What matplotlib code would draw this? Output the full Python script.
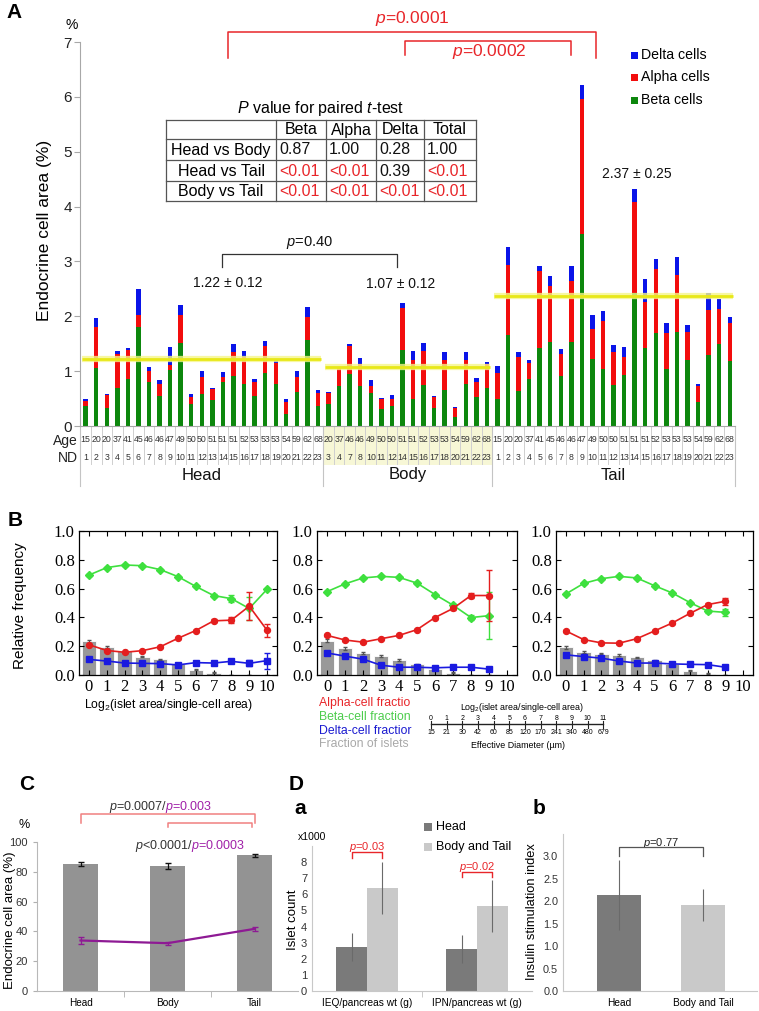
import matplotlib
matplotlib.use('Agg')
import matplotlib.pyplot as plt
import matplotlib.transforms as mtrans
from matplotlib.patches import Rectangle
import numpy as np

plt.rcParams['font.family'] = ['Liberation Sans', 'DejaVu Sans']
plt.rcParams['mathtext.fontset'] = 'custom'
plt.rcParams['mathtext.rm'] = 'Liberation Sans'
plt.rcParams['mathtext.it'] = 'Liberation Sans:italic'
plt.rcParams['mathtext.bf'] = 'Liberation Sans:bold'

# ------------------------------------------------------------------ data A
nd_age = [15, 20, 20, 37, 41, 45, 46, 46, 47, 49, 50, 50, 51, 51, 51, 52, 53, 53, 53, 54, 59, 62, 68]
head_nd = list(range(1, 24))
body_nd = [3, 4, 7, 8, 10, 11, 12, 14, 15, 16, 17, 18, 20, 21, 22, 23]
tail_nd = list(range(1, 24))

head_beta = [0.37, 1.06, 0.33, 0.70, 0.85, 1.81, 0.80, 0.55, 1.02, 1.51, 0.41, 0.58, 0.47, 0.81, 0.92, 0.76, 0.55, 0.97, 0.77, 0.22, 0.62, 1.57, 0.37]
head_alpha = [0.08, 0.75, 0.24, 0.61, 0.53, 0.21, 0.21, 0.22, 0.10, 0.51, 0.12, 0.31, 0.21, 0.09, 0.42, 0.50, 0.26, 0.48, 0.37, 0.22, 0.28, 0.42, 0.23]
head_delta = [0.05, 0.16, 0.02, 0.06, 0.05, 0.48, 0.06, 0.06, 0.32, 0.19, 0.05, 0.12, 0.02, 0.08, 0.15, 0.11, 0.05, 0.10, 0.06, 0.05, 0.10, 0.18, 0.05]

body_beta = [0.40, 0.73, 0.95, 0.73, 0.60, 0.31, 0.36, 1.38, 0.50, 0.74, 0.33, 0.66, 0.16, 0.77, 0.53, 0.70]
body_alpha = [0.21, 0.34, 0.51, 0.40, 0.13, 0.18, 0.13, 0.78, 0.70, 0.63, 0.20, 0.55, 0.16, 0.44, 0.28, 0.43]
body_delta = [0.01, 0.01, 0.03, 0.11, 0.10, 0.02, 0.07, 0.09, 0.16, 0.15, 0.01, 0.14, 0.03, 0.13, 0.07, 0.04]

tail_beta = [0.50, 1.66, 0.63, 0.85, 1.43, 1.54, 0.92, 1.54, 3.50, 1.23, 1.03, 0.75, 0.93, 2.43, 1.43, 1.69, 1.03, 1.72, 1.21, 0.43, 1.30, 1.49, 1.19]
tail_alpha = [0.47, 1.27, 0.62, 0.30, 1.39, 1.02, 0.40, 1.10, 2.46, 0.54, 0.89, 0.59, 0.33, 1.66, 0.83, 1.18, 0.66, 1.03, 0.50, 0.30, 0.82, 0.65, 0.69]
tail_delta = [0.12, 0.33, 0.09, 0.06, 0.09, 0.17, 0.09, 0.28, 0.25, 0.26, 0.17, 0.13, 0.18, 0.23, 0.42, 0.18, 0.19, 0.33, 0.14, 0.04, 0.30, 0.17, 0.10]

group_names = ['Head', 'Body', 'Tail']
group_means = [1.22, 1.07, 2.37]
group_sems = [0.12, 0.12, 0.25]

ptab_cols = ['Beta', 'Alpha', 'Delta', 'Total']
ptab_rows = ['Head vs Body', 'Head vs Tail', 'Body vs Tail']
ptab_vals = [['0.87', '1.00', '0.28', '1.00'],
             ['<0.01', '<0.01', '0.39', '<0.01'],
             ['<0.01', '<0.01', '<0.01', '<0.01']]

# ------------------------------------------------------------------ data B
bins_head = list(range(11))
bins_bt = list(range(10))
head_alpha_f = [0.21, 0.17, 0.158, 0.169, 0.196, 0.255, 0.309, 0.376, 0.381, 0.478, 0.311]
head_alpha_e = [0.005, 0.005, 0.005, 0.005, 0.005, 0.005, 0.005, 0.01, 0.02, 0.095, 0.045]
head_beta_f = [0.694, 0.746, 0.764, 0.759, 0.732, 0.683, 0.615, 0.552, 0.530, 0.462, 0.595]
head_beta_e = [0.005, 0.005, 0.005, 0.005, 0.005, 0.005, 0.005, 0.01, 0.025, 0.08, 0.0]
head_delta_f = [0.108, 0.097, 0.083, 0.081, 0.079, 0.070, 0.086, 0.083, 0.095, 0.081, 0.10]
head_delta_e = [0.003, 0.003, 0.003, 0.003, 0.003, 0.003, 0.003, 0.005, 0.01, 0.02, 0.055]
head_islets = [0.234, 0.194, 0.165, 0.128, 0.108, 0.079, 0.036, 0.016, 0.003, 0.0, 0.0]
head_islets_e = [0.01, 0.008, 0.006, 0.005, 0.005, 0.004, 0.004, 0.003, 0.0, 0.0, 0.0]

body_alpha_f = [0.275, 0.243, 0.228, 0.252, 0.275, 0.315, 0.399, 0.462, 0.552, 0.552]
body_alpha_e = [0.005, 0.005, 0.005, 0.005, 0.005, 0.005, 0.005, 0.01, 0.02, 0.18]
body_beta_f = [0.579, 0.633, 0.674, 0.685, 0.678, 0.638, 0.559, 0.485, 0.399, 0.412]
body_beta_e = [0.005, 0.005, 0.005, 0.005, 0.005, 0.005, 0.005, 0.01, 0.02, 0.165]
body_delta_f = [0.153, 0.131, 0.110, 0.068, 0.054, 0.054, 0.050, 0.054, 0.054, 0.041]
body_delta_e = [0.003, 0.003, 0.003, 0.003, 0.003, 0.003, 0.003, 0.003, 0.005, 0.015]
body_islets = [0.237, 0.185, 0.153, 0.131, 0.104, 0.074, 0.045, 0.016, 0.0, 0.0]
body_islets_e = [0.01, 0.008, 0.006, 0.005, 0.005, 0.004, 0.004, 0.003, 0.0, 0.0]

tail_alpha_f = [0.306, 0.246, 0.223, 0.221, 0.252, 0.306, 0.361, 0.428, 0.489, 0.512]
tail_alpha_e = [0.005, 0.005, 0.005, 0.005, 0.005, 0.005, 0.005, 0.005, 0.01, 0.025]
tail_beta_f = [0.563, 0.636, 0.669, 0.685, 0.674, 0.620, 0.570, 0.503, 0.444, 0.435]
tail_beta_e = [0.005, 0.005, 0.005, 0.005, 0.005, 0.005, 0.005, 0.005, 0.01, 0.025]
tail_delta_f = [0.140, 0.128, 0.117, 0.097, 0.083, 0.083, 0.077, 0.074, 0.072, 0.054]
tail_delta_e = [0.003, 0.003, 0.003, 0.003, 0.003, 0.003, 0.003, 0.003, 0.004, 0.006]
tail_islets = [0.192, 0.162, 0.149, 0.140, 0.122, 0.101, 0.077, 0.029, 0.009, 0.0]
tail_islets_e = [0.008, 0.007, 0.006, 0.005, 0.005, 0.004, 0.004, 0.003, 0.002, 0.0]

scale_log2 = list(range(12))
scale_diam = [15, 21, 30, 42, 60, 85, 120, 170, 241, 340, 480, 679]

# ------------------------------------------------------------------ data C
c_regions = ['Head', 'Body', 'Tail']
c_total = [85.2, 84.1, 91.0]
c_total_err = [1.5, 2.0, 1.0]
c_beta = [33.9, 32.1, 41.7]
c_beta_err = [2.3, 1.0, 1.2]

# ------------------------------------------------------------------ data D
da_groups = ['IEQ/pancreas wt (g)', 'IPN/pancreas wt (g)']
da_head = [2.72, 2.59]
da_head_err = [0.85, 0.87]
da_bt = [6.40, 5.28]
da_bt_err = [1.6, 1.6]
db_groups = ['Head', 'Body and Tail']
db_vals = [2.14, 1.92]
db_err = [0.77, 0.36]

# ------------------------------------------------------------------ colours
GREEN = '#0d870d'
RED = '#f20d0d'
BLUE = '#0a14e8'
PRED = '#e8262a'
B_RED = '#e41e1e'
B_GREEN = '#3ee03e'
B_BLUE = '#1a1ae0'
PURPLE = '#8e1a94'
DARK = '#7a7a7a'
LIGHT = '#c9c9c9'

W, H = 759, 1011
fig = plt.figure(figsize=(W / 100, H / 100), dpi=100)


def axpx(l, t, r, b, **kw):
    return fig.add_axes([l / W, 1 - b / H, (r - l) / W, (b - t) / H], **kw)


ov = fig.add_axes([0, 0, 1, 1], zorder=10)
ov.set_xlim(0, W)
ov.set_ylim(H, 0)
ov.axis('off')
ov.patch.set_alpha(0)

# =================================================================== PANEL A
axA = axpx(80.4, 42, 735, 426)
beta = np.array(head_beta + body_beta + tail_beta)
alpha = np.array(head_alpha + body_alpha + tail_alpha)
delta = np.array(head_delta + body_delta + tail_delta)
nds = head_nd + body_nd + tail_nd
ages = [nd_age[n - 1] for n in nds]
xa = np.arange(len(beta))
bw = 0.42
axA.bar(xa, beta, width=bw, color=GREEN, zorder=2)
axA.bar(xa, alpha, bottom=beta, width=bw, color=RED, zorder=2)
axA.bar(xa, delta, bottom=beta + alpha, width=bw, color=BLUE, zorder=2)
axA.set_xlim(-0.5, len(beta) - 0.5)
axA.set_ylim(0, 7)
axA.set_yticks(range(8))
axA.set_xticks([])
for s in ['top', 'right']:
    axA.spines[s].set_visible(False)
for s in ['left', 'bottom']:
    axA.spines[s].set_color('#a8a8a8')
axA.tick_params(axis='y', direction='out', length=4, color='#a8a8a8', labelsize=11, labelcolor='#222222', pad=2)

sizes = [len(head_beta), len(body_beta), len(tail_beta)]
starts = [0, sizes[0], sizes[0] + sizes[1]]
ends = [starts[i] + sizes[i] - 1 for i in range(3)]
for i in range(3):
    xs = [starts[i] - 0.35, ends[i] + 0.3]
    axA.plot(xs, [group_means[i]] * 2, color='#f6f68a', lw=4.5, alpha=0.8, zorder=3, solid_capstyle='butt')
    axA.plot(xs, [group_means[i]] * 2, color='#e8e817', lw=2.0, zorder=3, solid_capstyle='butt')

mean_lbl_pos = [(13.5, 2.6), (29.8, 2.58), (52.2, 4.6)]
for i in range(3):
    axA.text(mean_lbl_pos[i][0], mean_lbl_pos[i][1], f'{group_means[i]:.2f} ± {group_sems[i]:.2f}',
             ha='center', va='center', fontsize=10, color='#111111')


def bracket(ax, x0, x1, ytop, yleg0, yleg1, color, lw=1.0):
    ax.plot([x0, x0, x1, x1], [yleg0, ytop, ytop, yleg1], color=color, lw=lw, clip_on=False, zorder=4)


bracket(axA, 12.9, 29.5, 3.13, 2.9, 2.9, '#333333', 0.9)
axA.text(21.2, 3.34, '$p$=0.40', ha='center', va='center', fontsize=10.5, color='#111111')
bracket(axA, 13.5, 48.3, 7.19, 6.70, 6.70, PRED, 1.1)
axA.text(30.9, 7.43, '$p$=0.0001', ha='center', va='center', fontsize=12.5, color=PRED, clip_on=False)
bracket(axA, 30.2, 46.0, 7.01, 6.76, 6.76, PRED, 1.1)
axA.text(38.2, 6.83, '$p$=0.0002', ha='center', va='center', fontsize=12.5, color=PRED)

# category table under panel A
trA = mtrans.blended_transform_factory(axA.transData, axA.transAxes)


def ayf(py):
    return (426 - py) / 384.0


axA.add_patch(Rectangle((starts[1] - 0.5, ayf(465)), sizes[1], ayf(426) - ayf(465), transform=trA,
                        facecolor='#f7f7d6', edgecolor='none', clip_on=False, zorder=0))
for i in range(len(beta)):
    axA.text(xa[i], ayf(439), str(ages[i]), transform=trA, ha='center', va='center', fontsize=6.3,
             color='#333333', clip_on=False)
    axA.text(xa[i], ayf(457), str(nds[i]), transform=trA, ha='center', va='center', fontsize=6.3,
             color='#333333', clip_on=False)
    if i < len(beta) - 1:
        axA.plot([i + 0.5, i + 0.5], [0, ayf(464)], transform=trA, color='#cfcfcf', lw=0.7, clip_on=False)
for b in [-0.5, starts[1] - 0.5, starts[2] - 0.5, len(beta) - 0.5]:
    axA.plot([b, b], [0, ayf(486)], transform=trA, color='#c4c4c4', lw=0.8, clip_on=False)
for i in range(3):
    axA.text((starts[i] + ends[i]) / 2, ayf(475), group_names[i], transform=trA, ha='center', va='center',
             fontsize=12, color='#111111', clip_on=False)
ov.text(78, 441, 'Age', ha='right', va='center', fontsize=10, color='#222222')
ov.text(78, 458, 'ND', ha='right', va='center', fontsize=10, color='#222222')

ov.text(45, 230, 'Endocrine cell area (%)', rotation=90, ha='center', va='center', fontsize=12.5)
ov.text(72, 25, '%', ha='center', va='center', fontsize=10)
ov.text(14, 13, 'A', ha='center', va='center', fontsize=15, fontweight='bold')

# p-value table
tx = [166, 276, 326, 376, 424, 476]
ty = [120, 139, 160, 181, 201]
for xx in tx:
    ov.plot([xx, xx], [ty[0], ty[-1]], color='#555555', lw=0.9)
for yy in ty:
    ov.plot([tx[0], tx[-1]], [yy, yy], color='#555555', lw=0.9)
ov.text((tx[0] + tx[-1]) / 2, 108, '$P$ value for paired $t$-test', ha='center', va='center', fontsize=11.5)
for j, c in enumerate(ptab_cols):
    ov.text((tx[j + 1] + tx[j + 2]) / 2, (ty[0] + ty[1]) / 2 + 0.5, c, ha='center', va='center', fontsize=11.5)
for i, r in enumerate(ptab_rows):
    yc = (ty[i + 1] + ty[i + 2]) / 2 + 0.5
    ov.text((tx[0] + tx[1]) / 2, yc, r, ha='center', va='center', fontsize=11.5)
    for j, v in enumerate(ptab_vals[i]):
        ov.text(tx[j + 1] + 3, yc, v, ha='left', va='center', fontsize=11.5,
                color=PRED if v.startswith('<') else '#111111')

# legend A
leg_items = [('Delta cells', BLUE), ('Alpha cells', RED), ('Beta cells', GREEN)]
for k, (lab, col) in enumerate(leg_items):
    yc = 55 + k * 22.5
    ov.add_patch(Rectangle((631, yc - 3.5), 6.5, 7, facecolor=col, edgecolor='none'))
    ov.text(641, yc, lab, ha='left', va='center', fontsize=10.2)

# =================================================================== PANEL B
B_TOP, B_BOT = 531, 675
axB1 = axpx(79, B_TOP, 277, B_BOT)
axB2 = axpx(317, B_TOP, 517, B_BOT)
axB3 = axpx(556, B_TOP, 753, B_BOT)


def draw_B(ax, xs, a, ae, b, be, d, de, isl, isle):
    ax.bar(xs, isl, width=0.82, color='#999999', edgecolor='white', lw=0.6, zorder=1)
    ax.errorbar(xs, isl, yerr=isle, fmt='none', ecolor='#555555', elinewidth=0.8, capsize=1.5, zorder=2)
    ax.errorbar(xs, b, yerr=be, color=B_GREEN, marker='D', ms=3.6, lw=1.2, elinewidth=1.0, capsize=2, zorder=3)
    ax.errorbar(xs, a, yerr=ae, color=B_RED, marker='o', ms=4.3, lw=1.2, elinewidth=1.0, capsize=2, zorder=4)
    ax.errorbar(xs, d, yerr=de, color=B_BLUE, marker='s', ms=3.8, lw=1.2, elinewidth=1.0, capsize=2, zorder=5)
    ax.set_xlim(-0.56, 10.56)
    ax.set_ylim(0, 1.0)
    ax.set_xticks(range(11))
    ax.set_yticks([0, 0.2, 0.4, 0.6, 0.8, 1.0])
    ax.set_yticklabels(['0.0', '0.2', '0.4', '0.6', '0.8', '1.0'])
    ax.tick_params(direction='in', top=True, right=True, length=3.5, width=0.8, pad=3)
    for lab in ax.get_xticklabels() + ax.get_yticklabels():
        lab.set_fontfamily('Liberation Serif')
        lab.set_fontsize(12)
    for s in ax.spines.values():
        s.set_linewidth(0.9)


draw_B(axB1, bins_head, head_alpha_f, head_alpha_e, head_beta_f, head_beta_e, head_delta_f, head_delta_e,
       head_islets, head_islets_e)
draw_B(axB2, bins_bt, body_alpha_f, body_alpha_e, body_beta_f, body_beta_e, body_delta_f, body_delta_e,
       body_islets, body_islets_e)
draw_B(axB3, bins_bt, tail_alpha_f, tail_alpha_e, tail_beta_f, tail_beta_e, tail_delta_f, tail_delta_e,
       tail_islets, tail_islets_e)

ov.text(20, 606, 'Relative frequency', rotation=90, ha='center', va='center', fontsize=11)
ov.text(168, 705, 'Log$_2$(islet area/single-cell area)', ha='center', va='center', fontsize=8.7)
ov.text(15, 521, 'B', ha='center', va='center', fontsize=15, fontweight='bold')

legB = [('Alpha-cell fractio', '#e8262a'), ('Beta-cell fraction', '#4ccc4c'),
        ('Delta-cell fractior', '#1a1ad0'), ('Fraction of islets', '#a8a8a8')]
for k, (lab, col) in enumerate(legB):
    ov.text(319, 703 + k * 13.8, lab, ha='left', va='center', fontsize=8.8, color=col)

# scale inset
sx0, sstep, sy = 431, 15.65, 724
ov.plot([sx0, sx0 + sstep * (len(scale_log2) - 1)], [sy, sy], color='#222222', lw=1.0)
for k in range(len(scale_log2)):
    xx = sx0 + sstep * k
    ov.plot([xx, xx], [sy - 3.5, sy + 3.5], color='#222222', lw=0.8)
    ov.text(xx, 718, str(scale_log2[k]), ha='center', va='center', fontsize=5.0)
    ov.text(xx, 733, str(scale_diam[k]), ha='center', va='center', fontsize=5.0)
ov.text(522, 708, 'Log$_2$(islet area/single-cell area)', ha='center', va='center', fontsize=6.4)
ov.text(518, 745, 'Effective Diameter (µm)', ha='center', va='center', fontsize=6.4)

# =================================================================== PANEL C
axC = axpx(37, 842, 298, 991)
xc = np.arange(len(c_regions))
axC.bar(xc, c_total, width=0.4, color='#939393', zorder=1)
axC.errorbar(xc, c_total, yerr=c_total_err, fmt='none', ecolor='#111111', elinewidth=0.9, capsize=2, zorder=2)
axC.errorbar(xc, c_beta, yerr=c_beta_err, color=PURPLE, lw=1.6, elinewidth=0.9, capsize=2, zorder=3)
axC.set_xlim(-0.5, 2.5)
axC.set_ylim(0, 100)
axC.set_yticks(range(0, 101, 20))
axC.set_xticks(xc)
axC.set_xticklabels(c_regions)
axC.set_xticks([0.5, 1.5], minor=True)
axC.tick_params(axis='x', which='major', length=0, labelsize=7.2, pad=5)
axC.tick_params(axis='x', which='minor', length=4, color='#b0b0b0', direction='out')
axC.tick_params(axis='y', length=3, color='#b0b0b0', labelsize=8, labelcolor='#333333')
for s in ['top', 'right']:
    axC.spines[s].set_visible(False)
for s in ['left', 'bottom']:
    axC.spines[s].set_color('#b8b8b8')
bracket(axC, 0, 2, 118.8, 112.8, 112.8, '#f08080', 1.1)
bracket(axC, 1, 1.97, 112.8, 110.0, 110.0, '#f08080', 1.1)
axC.text(1.0, 123.5, '$p$=0.0007/', ha='right', va='center', fontsize=9, color='#333333', clip_on=False)
axC.text(0.975, 123.5, '$p$=0.003', ha='left', va='center', fontsize=9, color='#a020a8', clip_on=False)
axC.text(1.30, 97.3, '$p$<0.0001/', ha='right', va='center', fontsize=9, color='#333333', clip_on=False)
axC.text(1.275, 97.3, '$p$=0.0003', ha='left', va='center', fontsize=9, color='#a020a8', clip_on=False)
ov.text(10, 920, 'Endocrine cell area (%)', rotation=90, ha='center', va='center', fontsize=9.5)
ov.text(24, 825, '%', ha='center', va='center', fontsize=9)
ov.text(27, 784, 'C', ha='center', va='center', fontsize=15, fontweight='bold')

# =================================================================== PANEL D
axDa = axpx(312, 846, 532, 991)
xd = np.arange(len(da_groups))
off = 0.14
axDa.bar(xd - off, da_head, width=0.28, color=DARK, zorder=1)
axDa.bar(xd + off, da_bt, width=0.28, color=LIGHT, zorder=1)
axDa.errorbar(xd - off, da_head, yerr=da_head_err, fmt='none', ecolor='#6a6a6a', elinewidth=0.8, capsize=0, zorder=2)
axDa.errorbar(xd + off, da_bt, yerr=da_bt_err, fmt='none', ecolor='#6a6a6a', elinewidth=0.8, capsize=0, zorder=2)
axDa.set_xlim(-0.5, 1.5)
axDa.set_ylim(0, 9)
axDa.set_yticks(range(9))
axDa.set_xticks(xd)
axDa.set_xticklabels(da_groups)
axDa.set_xticks([0.5], minor=True)
axDa.tick_params(axis='x', which='major', length=0, labelsize=7.3, pad=5)
axDa.tick_params(axis='x', which='minor', length=4, color='#c0c0c0')
axDa.tick_params(axis='y', length=0, labelsize=8, labelcolor='#333333')
for s in ['top', 'right']:
    axDa.spines[s].set_visible(False)
for s in ['left', 'bottom']:
    axDa.spines[s].set_color('#c8c8c8')
bracket(axDa, -off, off, 8.63, 8.26, 8.26, PRED, 1.0)
axDa.text(0, 8.95, '$p$=0.03', ha='center', va='center', fontsize=8, color=PRED, clip_on=False)
bracket(axDa, 1 - off, 1 + off, 7.39, 7.08, 7.08, PRED, 1.0)
axDa.text(1, 7.72, '$p$=0.02', ha='center', va='center', fontsize=8, color=PRED, clip_on=False)
ov.text(293, 920, 'Islet count', rotation=90, ha='center', va='center', fontsize=9.5)
ov.text(312, 837, 'x1000', ha='center', va='center', fontsize=7.5)
ov.add_patch(Rectangle((424, 823), 8, 8, facecolor=DARK, edgecolor='none'))
ov.text(436, 827, 'Head', ha='left', va='center', fontsize=9)
ov.add_patch(Rectangle((424, 843), 8, 8, facecolor=LIGHT, edgecolor='none'))
ov.text(436, 847, 'Body and Tail', ha='left', va='center', fontsize=9)
ov.text(296, 784, 'D', ha='center', va='center', fontsize=15, fontweight='bold')
ov.text(300, 808, 'a', ha='center', va='center', fontsize=15, fontweight='bold')
ov.text(539, 809, 'b', ha='center', va='center', fontsize=15, fontweight='bold')

axDb = axpx(563, 834, 757, 991)
xb = np.arange(len(db_groups))
axDb.bar(xb, db_vals, width=0.52, color=[DARK, LIGHT], zorder=1)
axDb.errorbar(xb, db_vals, yerr=db_err, fmt='none', ecolor='#6a6a6a', elinewidth=0.8, capsize=0, zorder=2)
axDb.set_xlim(-0.667, 1.643)
axDb.set_ylim(0, 3.5)
axDb.set_yticks(np.arange(0, 3.01, 0.5))
axDb.set_yticklabels([f'{v:.1f}' for v in np.arange(0, 3.01, 0.5)])
axDb.set_xticks(xb)
axDb.set_xticklabels(db_groups)
axDb.tick_params(axis='x', length=0, labelsize=7.3, pad=5)
axDb.tick_params(axis='y', length=0, labelsize=7.8, labelcolor='#333333')
for s in ['top', 'right']:
    axDb.spines[s].set_visible(False)
for s in ['left', 'bottom']:
    axDb.spines[s].set_color('#c8c8c8')
bracket(axDb, 0, 1, 3.2, 3.02, 3.02, '#555555', 0.9)
axDb.text(0.5, 3.31, '$p$=0.77', ha='center', va='center', fontsize=8, color='#222222')
ov.text(532, 912, 'Insulin stimulation index', rotation=90, ha='center', va='center', fontsize=9.3)

fig.savefig('out.png', dpi=100)
